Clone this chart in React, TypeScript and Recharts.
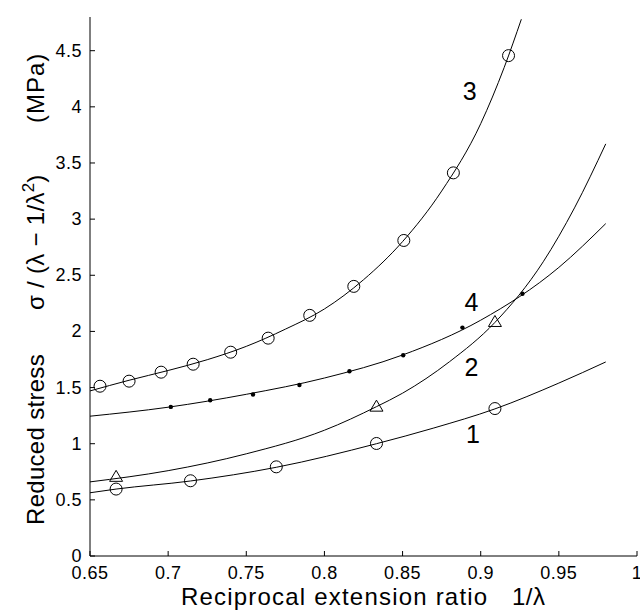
import React from "react";
import {
  ComposedChart,
  Line,
  Scatter,
  XAxis,
  YAxis,
  ReferenceDot,
} from "recharts";

const FONT = '"Liberation Sans", Arial, Helvetica, sans-serif';

const xTicks = [0.65, 0.7, 0.75, 0.8, 0.85, 0.9, 0.95, 1];
const yTicks = [0, 0.5, 1, 1.5, 2, 2.5, 3, 3.5, 4, 4.5];

// measured points (markers)
const marks1X = [0.6667, 0.7143, 0.7692, 0.8333, 0.9091];
const marks1Y = [0.596, 0.67, 0.794, 1.002, 1.313];

const marks2X = [0.6667, 0.8333, 0.9091];
const marks2Y = [0.705, 1.33, 2.084];

const marks3X = [0.6564, 0.675, 0.6955, 0.716, 0.74, 0.764, 0.7906, 0.8188, 0.8508, 0.8825, 0.9178];
const marks3Y = [1.512, 1.557, 1.637, 1.708, 1.815, 1.94, 2.143, 2.401, 2.81, 3.412, 4.456];

const marks4X = [0.7017, 0.7269, 0.7543, 0.784, 0.816, 0.8504, 0.8883, 0.9267];
const marks4Y = [1.328, 1.387, 1.438, 1.523, 1.645, 1.788, 2.034, 2.336];

// fitted curves
const fit1X = [0.65, 0.6667, 0.7143, 0.7692, 0.8333, 0.87, 0.9091, 0.95, 0.98];
const fit1Y = [0.563, 0.596, 0.668, 0.79, 1.0, 1.14, 1.31, 1.54, 1.728];

const fit2X = [0.65, 0.7, 0.75, 0.8, 0.8333, 0.85, 0.88, 0.9091, 0.94, 0.96, 0.98];
const fit2Y = [0.66, 0.76, 0.91, 1.12, 1.33, 1.45, 1.73, 2.08, 2.62, 3.1, 3.67];

const fit3X = [0.65, 0.675, 0.7, 0.725, 0.75, 0.775, 0.8, 0.825, 0.85, 0.875, 0.9, 0.915, 0.926];
const fit3Y = [1.47, 1.565, 1.652, 1.748, 1.867, 2.02, 2.2, 2.46, 2.8, 3.25, 3.85, 4.35, 4.78];

const fit4X = [0.65, 0.7, 0.75, 0.8, 0.85, 0.9, 0.95, 0.98];
const fit4Y = [1.245, 1.325, 1.44, 1.585, 1.79, 2.1, 2.57, 2.96];

// curve number labels
const curveNames = ["1", "2", "3", "4"];
const nameX = [0.895, 0.894, 0.893, 0.894];
const nameY = [1.09, 1.68, 4.14, 2.26];

const zip = (xs: number[], ys: number[]) => xs.map((x, i) => ({ x, y: ys[i] }));

const BottomTick = (props: any) => {
  const { x, y, payload } = props;
  return (
    <g>
      <line x1={x} y1={y} x2={x} y2={y - 5} stroke="#000" />
      <text
        x={x}
        y={y + 23}
        textAnchor="middle"
        fontSize={18}
        letterSpacing={0.5}
        fill="#000"
        fontFamily={FONT}
      >
        {String(payload.value)}
      </text>
    </g>
  );
};

const TopTick = (props: any) => {
  const { x, y } = props;
  return <line x1={x} y1={y} x2={x} y2={y + 5} stroke="#000" />;
};

const LeftTick = (props: any) => {
  const { x, y, payload } = props;
  return (
    <g>
      <line x1={x} y1={y} x2={x + 5} y2={y} stroke="#000" />
      <text
        x={x - 8}
        y={y + 6}
        textAnchor="end"
        fontSize={18}
        letterSpacing={0.5}
        fill="#000"
        fontFamily={FONT}
      >
        {String(payload.value)}
      </text>
    </g>
  );
};

const RightTick = (props: any) => {
  const { x, y } = props;
  return <line x1={x} y1={y} x2={x - 5} y2={y} stroke="#000" />;
};

const OpenCircle = (props: any) => (
  <circle cx={props.cx} cy={props.cy} r={6} fill="none" stroke="#000" strokeWidth={1} />
);

const Triangle = (props: any) => {
  const { cx, cy } = props;
  return (
    <polygon
      points={`${cx},${cy - 6.5} ${cx - 6.5},${cy + 4.5} ${cx + 6.5},${cy + 4.5}`}
      fill="none"
      stroke="#000"
      strokeWidth={1}
    />
  );
};

const SmallDot = (props: any) => <circle cx={props.cx} cy={props.cy} r={2.2} fill="#000" />;

export default function App() {
  const fits = [zip(fit1X, fit1Y), zip(fit2X, fit2Y), zip(fit3X, fit3Y), zip(fit4X, fit4Y)];
  return (
    <div style={{ position: "absolute", left: 0, top: 0, width: 640, height: 613, background: "#fff" }}>
      <ComposedChart width={640} height={613} margin={{ top: 17, right: 3, left: 0, bottom: 0 }}>
        <XAxis
          dataKey="x"
          type="number"
          domain={[0.65, 1]}
          ticks={xTicks}
          interval={0}
          allowDataOverflow
          height={57}
          tickSize={0}
          tickMargin={0}
          tickLine={false}
          axisLine={{ stroke: "#000" }}
          tick={<BottomTick />}
        />
        <XAxis
          xAxisId="top"
          orientation="top"
          dataKey="x"
          type="number"
          domain={[0.65, 1]}
          ticks={xTicks}
          interval={0}
          allowDataOverflow
          height={0}
          tickSize={0}
          tickMargin={0}
          tickLine={false}
          axisLine={{ stroke: "#000" }}
          tick={<TopTick />}
        />
        <YAxis
          dataKey="y"
          type="number"
          domain={[0, 4.8]}
          ticks={yTicks}
          interval={0}
          allowDataOverflow
          width={90}
          tickSize={0}
          tickMargin={0}
          tickLine={false}
          axisLine={{ stroke: "#000" }}
          tick={<LeftTick />}
        />
        <YAxis
          yAxisId="right"
          orientation="right"
          dataKey="y"
          type="number"
          domain={[0, 4.8]}
          ticks={yTicks}
          interval={0}
          allowDataOverflow
          width={0}
          tickSize={0}
          tickMargin={0}
          tickLine={false}
          axisLine={{ stroke: "#000" }}
          tick={<RightTick />}
        />
        {fits.map((d, i) => (
          <Line
            key={"fit" + i}
            data={d}
            dataKey="y"
            type="monotone"
            stroke="#000"
            strokeWidth={1}
            dot={false}
            activeDot={false}
            isAnimationActive={false}
          />
        ))}
        <Scatter data={zip(marks1X, marks1Y)} dataKey="y" shape={<OpenCircle />} isAnimationActive={false} />
        <Scatter data={zip(marks2X, marks2Y)} dataKey="y" shape={<Triangle />} isAnimationActive={false} />
        <Scatter data={zip(marks3X, marks3Y)} dataKey="y" shape={<OpenCircle />} isAnimationActive={false} />
        <Scatter data={zip(marks4X, marks4Y)} dataKey="y" shape={<SmallDot />} isAnimationActive={false} />
        {curveNames.map((name, i) => (
          <ReferenceDot
            key={"name" + i}
            x={nameX[i]}
            y={nameY[i]}
            r={0}
            shape={(p: any) => (
              <text x={p.cx} y={p.cy + 9} textAnchor="middle" fontSize={25} fill="#000" fontFamily={FONT}>
                {name}
              </text>
            )}
          />
        ))}
      </ComposedChart>
      <svg
        width={640}
        height={613}
        style={{ position: "absolute", left: 0, top: 0, pointerEvents: "none" }}
      >
        <text y={605} fontSize={24} fill="#000" fontFamily={FONT}>
          <tspan x={181} letterSpacing={1.2}>Reciprocal extension ratio</tspan>
          <tspan x={512} letterSpacing={0.5}>1/λ</tspan>
        </text>
        <text transform="rotate(-90)" y={44} fontSize={24} fill="#000" fontFamily={FONT}>
          <tspan x={-525} letterSpacing={0.3}>Reduced stress</tspan>
          <tspan x={-310} letterSpacing={0.3}>σ / (λ − 1/λ</tspan>
          <tspan fontSize={17} dy={-10}>2</tspan>
          <tspan dy={10}>)</tspan>
          <tspan x={-123} letterSpacing={1}>(MPa)</tspan>
        </text>
      </svg>
    </div>
  );
}
